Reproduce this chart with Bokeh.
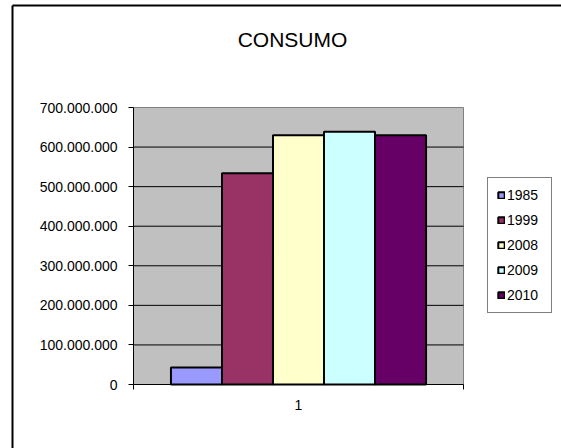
from bokeh.plotting import figure
from bokeh.models import (FixedTicker, Legend, LegendItem, Label, LinearAxis,
                          ColumnDataSource, Range1d)
from bokeh.embed import file_html
from bokeh.resources import INLINE

# ---- data ----
title_text = "CONSUMO"
category = ["1"]
series = ["1985", "1999", "2008", "2009", "2010"]
consumo = [43_000_000, 534_000_000, 630_000_000, 639_000_000, 630_000_000]
colors = ["#9999FF", "#993366", "#FFFFCC", "#CCFFFF", "#660066"]
y_ticks = [0, 100_000_000, 200_000_000, 300_000_000, 400_000_000,
           500_000_000, 600_000_000, 700_000_000]
y_tick_labels = ["0", "100.000.000", "200.000.000", "300.000.000", "400.000.000",
                 "500.000.000", "600.000.000", "700.000.000"]

FONT = "Liberation Sans"

# ---- page layout in pixels ----
W, H = 561, 448              # canvas
FR_L, FR_T = 10, 3           # drawing frame origin
PA_L, PA_R = 133, 463        # plot area, horizontal
PA_T, PA_B = 107, 384        # plot area, vertical
Y_MAX = y_ticks[-1]

x_per_px = 1.0 / (PA_R - PA_L)           # category slot spans 0.5 .. 1.5
y_per_px = Y_MAX / (PA_B - PA_T)
x_start = 0.5 - (PA_L - FR_L) * x_per_px
x_end = 1.5 + (W - PA_R) * x_per_px
y_start = -(H - PA_B) * y_per_px
y_end = Y_MAX + (PA_T - FR_T) * y_per_px


def px_x(px):
    return x_start + (px - FR_L) * x_per_px


def px_y(py):
    return y_end - (py - FR_T) * y_per_px


p = figure(width=W, height=H, output_backend="svg", toolbar_location=None,
           x_range=Range1d(x_start, x_end), y_range=Range1d(y_start, y_end),
           x_axis_location=None, y_axis_location=None,
           min_border_left=FR_L, min_border_top=FR_T,
           min_border_right=0, min_border_bottom=0,
           background_fill_color="white", border_fill_color="white",
           outline_line_color=None)
p.grid.visible = False

# chart-area border: left and top edges
bx, by = px_x(12), px_y(5)
p.segment(x0=[bx, bx], y0=[y_start, by], x1=[bx, x_end], y1=[by, by],
          line_color="black", line_width=2)

# plot area: gray fill, gray top/right border
p.quad(left=[0.5], right=[1.5], bottom=[0], top=[Y_MAX],
       fill_color="#C0C0C0", line_color="#808080", line_width=1)

# horizontal gridlines
grid_vals = y_ticks[1:-1]
p.segment(x0=[0.5] * len(grid_vals), x1=[1.5] * len(grid_vals),
          y0=grid_vals, y1=grid_vals, line_color="black", line_width=1)

# clustered bars inside the single category slot
group_frac = 0.773
n = len(series)
bar_w = group_frac / n
xs = [1 + (i - (n - 1) / 2) * bar_w for i in range(n)]
src = ColumnDataSource(dict(x=xs, top=consumo, color=colors, serie=series))
bars = p.vbar(x="x", top="top", bottom=0, width=bar_w, source=src,
              fill_color="color", line_color="black", line_width=2)

# value axis
yaxis = LinearAxis(fixed_location=0.5, bounds=(0, Y_MAX),
                   ticker=FixedTicker(ticks=y_ticks, minor_ticks=[]),
                   major_label_overrides=dict(zip(y_ticks, y_tick_labels)),
                   major_tick_out=5, major_tick_in=0,
                   minor_tick_out=0, minor_tick_in=0,
                   major_label_standoff=11,
                   axis_line_color="black", major_tick_line_color="black",
                   major_label_text_font=FONT, major_label_text_font_size="14px",
                   major_label_text_color="black")
p.add_layout(yaxis, "left")

# category axis: one label, ticks at the slot edges
xaxis = LinearAxis(fixed_location=0, bounds=(0.5, 1.5),
                   ticker=FixedTicker(ticks=[1], minor_ticks=[0.5, 1.5]),
                   major_label_overrides={1: category[0]},
                   major_tick_out=0, major_tick_in=0,
                   minor_tick_out=5, minor_tick_in=0,
                   minor_tick_line_color="black",
                   major_label_standoff=10,
                   axis_line_color="black",
                   major_label_text_font=FONT, major_label_text_font_size="14px",
                   major_label_text_color="black")
p.add_layout(xaxis, "below")

# legend: one entry per bar of the cluster
items = [LegendItem(label=s, renderers=[bars], index=i)
         for i, s in enumerate(series)]
legend = Legend(items=items, location=(487 - FR_L, H - 313),
                border_line_color="black", border_line_width=1,
                background_fill_color="white", background_fill_alpha=1,
                padding=9, spacing=9, margin=0,
                glyph_width=8, glyph_height=8,
                label_height=15, label_width=35, label_standoff=2,
                label_text_font=FONT, label_text_font_size="14px",
                label_text_color="black")
p.add_layout(legend)

# chart title
p.add_layout(Label(x=px_x(292), y=px_y(39), text=title_text,
                   text_align="center", text_baseline="middle",
                   text_font=FONT, text_font_size="21px", text_color="black"))

open("out.html", "w").write(file_html(p, INLINE))
